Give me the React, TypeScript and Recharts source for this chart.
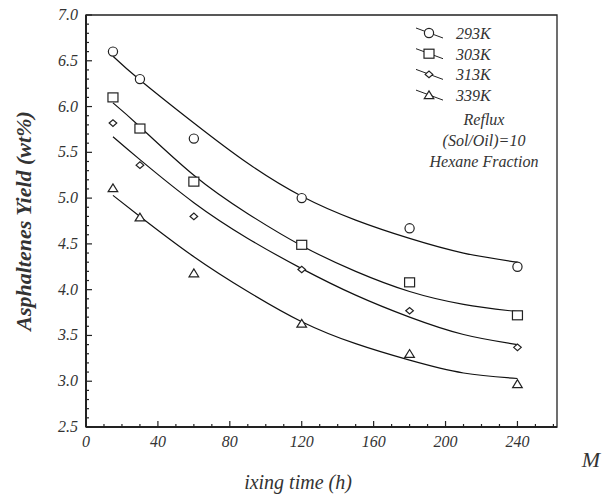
import React from 'react';
import { ComposedChart, Line, Scatter, XAxis, YAxis, ReferenceArea } from 'recharts';

// measured points (mixing time in hours)
const hours = [15, 30, 60, 120, 180, 240];
const yield293 = [6.6, 6.3, 5.65, 5.0, 4.67, 4.25];
const yield303 = [6.1, 5.76, 5.18, 4.49, 4.08, 3.72];
const yield313 = [5.82, 5.36, 4.8, 4.22, 3.77, 3.37];
const yield339 = [5.11, 4.79, 4.18, 3.63, 3.3, 2.97];

// fitted curves
const fitHours = [15, 30, 60, 90, 120, 150, 180, 210, 240];
const fit293 = [6.55, 6.29, 5.82, 5.38, 5.02, 4.76, 4.56, 4.4, 4.3];
const fit303 = [6.04, 5.78, 5.25, 4.83, 4.48, 4.2, 3.98, 3.84, 3.76];
const fit313 = [5.67, 5.42, 4.95, 4.56, 4.23, 3.94, 3.7, 3.51, 3.4];
const fit339 = [5.03, 4.8, 4.36, 3.98, 3.65, 3.41, 3.23, 3.09, 3.03];

const xTicks = [0, 40, 80, 120, 160, 200, 240];
const yTicks = [2.5, 3.0, 3.5, 4.0, 4.5, 5.0, 5.5, 6.0, 6.5, 7.0];
const legendLabels = ['293K', '303K', '313K', '339K'];
const noteLines = ['Reflux', '(Sol/Oil)=10', 'Hexane Fraction'];

const xMinor = Array.from({ length: 27 }, (_, i) => i * 10);
const yMinor = Array.from({ length: 46 }, (_, i) => Math.round((2.5 + i * 0.1) * 10) / 10);

const serif = '"Liberation Serif", "DejaVu Serif", serif';
const ink = '#222';

const pts = (ys: number[], xs: number[]) => xs.map((x, i) => ({ x, y: ys[i] }));

const XTick = (props: any) => {
  const { x, y, payload } = props;
  const major = xTicks.includes(payload.value);
  return (
    <g>
      <line x1={x} x2={x} y1={y} y2={y - (major ? 6 : 3)} stroke={ink} strokeWidth={1.2} />
      {major && (
        <text x={x} y={y + 20} textAnchor="middle" fontFamily={serif} fontStyle="italic" fontSize={16} fill="#333">
          {payload.value}
        </text>
      )}
    </g>
  );
};

const YTick = (props: any) => {
  const { x, y, payload } = props;
  const major = yTicks.some((t) => Math.abs(t - payload.value) < 1e-6);
  return (
    <g>
      <line x1={x} x2={x + (major ? 6 : 3)} y1={y} y2={y} stroke={ink} strokeWidth={1.2} />
      {major && (
        <text x={x - 8} y={y + 5} textAnchor="end" fontFamily={serif} fontStyle="italic" fontSize={16} fill="#333">
          {payload.value.toFixed(1)}
        </text>
      )}
    </g>
  );
};

const Circle = ({ cx, cy }: any) => <circle cx={cx} cy={cy} r={4.6} fill="#fff" stroke={ink} strokeWidth={1.2} />;
const Square = ({ cx, cy }: any) => <rect x={cx - 5} y={cy - 4.5} width={10} height={9} fill="#fff" stroke={ink} strokeWidth={1.2} />;
const Diamond = ({ cx, cy }: any) => (
  <polygon points={`${cx - 3.8},${cy} ${cx},${cy - 3.3} ${cx + 3.8},${cy} ${cx},${cy + 3.3}`} fill="#fff" stroke={ink} strokeWidth={1.2} />
);
const Triangle = ({ cx, cy }: any) => (
  <polygon points={`${cx - 4.8},${cy + 3.6} ${cx},${cy - 4.2} ${cx + 4.8},${cy + 3.6}`} fill="#fff" stroke={ink} strokeWidth={1.2} />
);
const shapes = [Circle, Square, Diamond, Triangle];

function LegendBox() {
  return (
    <svg width={602} height={497} style={{ position: 'absolute', left: 0, top: 0, pointerEvents: 'none' }}>
      {legendLabels.map((label, i) => {
        const cy = 33 + i * 20.7;
        const Shape = shapes[i];
        return (
          <g key={label}>
            <line x1={416} y1={cy - 5} x2={443} y2={cy + 5} stroke={ink} strokeWidth={1} />
            <Shape cx={429} cy={cy} />
            <text x={456} y={cy + 6} fontFamily={serif} fontStyle="italic" fontSize={16} fill="#333">
              {label}
            </text>
          </g>
        );
      })}
      {noteLines.map((t, i) => (
        <text key={t} x={484} y={125 + i * 21} textAnchor="middle" fontFamily={serif} fontStyle="italic" fontSize={16} fill="#333">
          {t}
        </text>
      ))}
      <text
        transform="translate(31,221) rotate(-90)"
        textAnchor="middle"
        fontFamily={serif}
        fontStyle="italic"
        fontWeight="bold"
        fontSize={22}
        fill="#333"
      >
        Asphaltenes Yield (wt%)
      </text>
      <text x={298} y={489} textAnchor="middle" fontFamily={serif} fontStyle="italic" fontSize={20} fill="#333">
        ixing time (h)
      </text>
      <text x={591} y={467} textAnchor="middle" fontFamily={serif} fontStyle="italic" fontSize={22} fill="#333">
        M
      </text>
    </svg>
  );
}

export default function App() {
  const series = [
    { key: '293K', pts: yield293, fit: fit293 },
    { key: '303K', pts: yield303, fit: fit303 },
    { key: '313K', pts: yield313, fit: fit313 },
    { key: '339K', pts: yield339, fit: fit339 },
  ];
  return (
    <div style={{ position: 'absolute', left: 0, top: 0, width: 602, height: 497, background: '#fff' }}>
      <ComposedChart width={602} height={497} margin={{ top: 15, right: 45, bottom: 0, left: 0 }}>
        <XAxis
          type="number"
          dataKey="x"
          domain={[0, 262]}
          ticks={xMinor}
          interval={0}
          height={70}
          tickSize={0}
          tickMargin={0}
          tickLine={false}
          tick={<XTick />}
          axisLine={{ stroke: ink, strokeWidth: 2 }}
          allowDataOverflow
        />
        <YAxis
          type="number"
          dataKey="y"
          domain={[2.5, 7]}
          ticks={yMinor}
          interval={0}
          width={86}
          tickSize={0}
          tickMargin={0}
          tickLine={false}
          tick={<YTick />}
          axisLine={{ stroke: ink, strokeWidth: 2 }}
          allowDataOverflow
        />
        <ReferenceArea x1={0} x2={262} y1={2.5} y2={7} fill="none" stroke={ink} strokeWidth={1.3} ifOverflow="visible" />
        {series.map((s) => (
          <Line
            key={`fit-${s.key}`}
            data={pts(s.fit, fitHours)}
            dataKey="y"
            type="natural"
            stroke="#111"
            strokeWidth={1.2}
            dot={false}
            activeDot={false}
            isAnimationActive={false}
          />
        ))}
        {series.map((s, i) => (
          <Scatter key={`pts-${s.key}`} data={pts(s.pts, hours)} dataKey="y" shape={shapes[i]} isAnimationActive={false} />
        ))}
      </ComposedChart>
      <LegendBox />
    </div>
  );
}
